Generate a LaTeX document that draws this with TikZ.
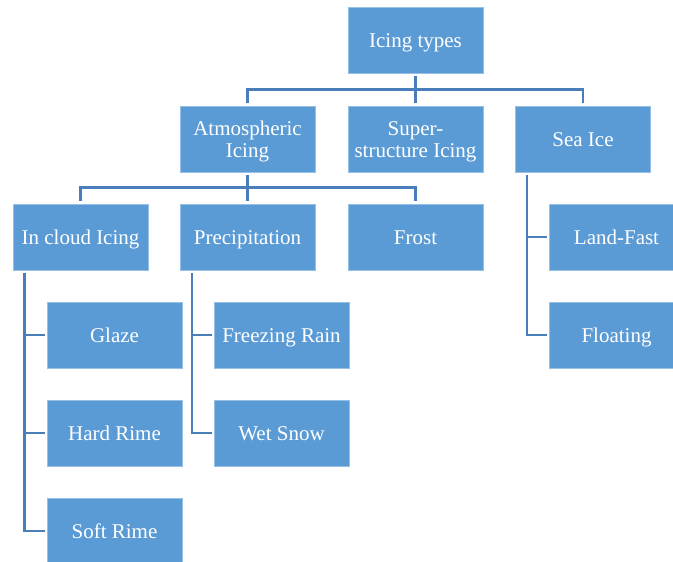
\documentclass[tikz,border=0pt]{standalone}
\usepackage{fontspec}
\setmainfont{Liberation Serif}
\usetikzlibrary{calc}
\definecolor{boxfill}{RGB}{91,155,213}
\definecolor{boxedge}{RGB}{150,192,230}
\definecolor{linecol}{RGB}{74,126,187}
\newcommand{\toppad}{\rule{0pt}{20.5pt}}
\tikzset{
  box/.style={rectangle, fill=boxfill, draw=boxedge, line width=0.8pt,
    minimum width=135pt, minimum height=66pt, inner sep=2pt,
    text=white, align=center, font=\fontsize{21}{22}\selectfont,
    execute at begin node={\rule{0pt}{19pt}},
    execute at end node={\rule[-5pt]{0pt}{5pt}}},
  conn/.style={draw=linecol, line width=2.6pt}
}
\begin{document}
\begin{tikzpicture}[x=1pt,y=-1pt]
\useasboundingbox (0,0) rectangle (673,562);
% nodes
\node[box] (top) at (415.5,40.5) {Icing types};
\node[box] (atmo) at (247.5,139) {\toppad Atmospheric\\Icing};
\node[box] (super) at (415.5,139) {\toppad Super-\\structure Icing};
\node[box] (sea) at (583,139) {Sea Ice};
\node[box] (incloud) at (80.5,237) {In cloud Icing};
\node[box] (precip) at (247.5,237) {Precipitation};
\node[box] (frost) at (415.5,237) {Frost};
\node[box] (landfast) at (616.5,237) {Land-Fast};
\node[box] (glaze) at (114.5,335) {Glaze};
\node[box] (frain) at (281.5,335) {Freezing Rain};
\node[box] (floating) at (616.5,335) {Floating};
\node[box] (hardrime) at (114.5,433) {Hard Rime};
\node[box] (wetsnow) at (281.5,433) {Wet Snow};
\node[box] (softrime) at (114.5,531) {Soft Rime};
% top level
\coordinate (b0) at (415.5,89.5);
\draw[conn] ([yshift=-2pt]top.south) -- (b0);
\draw[conn] ([yshift=3pt]super.north) -- (b0);
\draw[conn] ([yshift=3pt]atmo.north) |- (b0 -| sea.north) -- ([yshift=3pt]sea.north);
% atmospheric
\coordinate (b1) at (247.5,187.5);
\draw[conn] ([yshift=-3pt]atmo.south) -- (b1);
\draw[conn] ([yshift=3pt]precip.north) -- (b1);
\draw[conn] ([yshift=3pt]incloud.north) |- (b1 -| frost.north) -- ([yshift=3pt]frost.north);
% in cloud
\coordinate (v1) at ([xshift=12pt,yshift=-3pt]incloud.south west);
\draw[conn] (v1) |- ([xshift=-2pt]softrime.west);
\draw[conn] (v1 |- glaze.west) -- ([xshift=-2pt]glaze.west);
\draw[conn] (v1 |- hardrime.west) -- ([xshift=-2pt]hardrime.west);
% precipitation
\coordinate (v2) at ([xshift=12.5pt,yshift=-3pt]precip.south west);
\draw[conn] (v2) |- ([xshift=-2pt]wetsnow.west);
\draw[conn] (v2 |- frain.west) -- ([xshift=-2pt]frain.west);
% sea ice
\coordinate (v3) at ([xshift=12pt,yshift=-3pt]sea.south west);
\draw[conn] (v3) |- ([xshift=-2pt]floating.west);
\draw[conn] (v3 |- landfast.west) -- ([xshift=-2pt]landfast.west);
\end{tikzpicture}
\end{document}
